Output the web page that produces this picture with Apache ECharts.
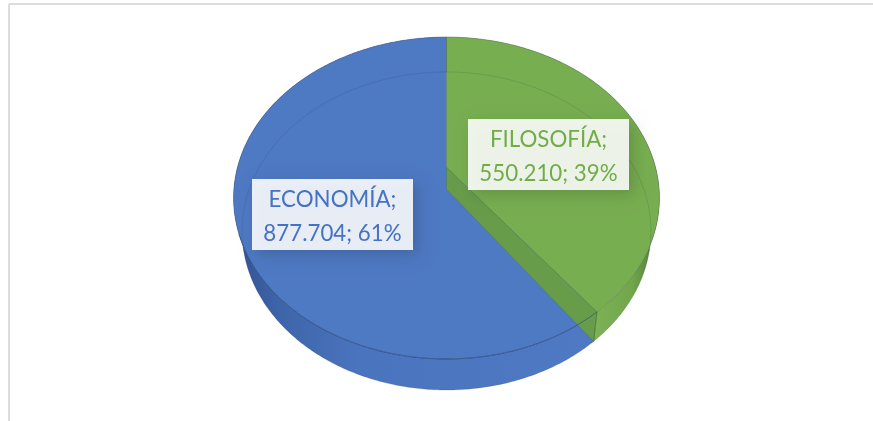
<!DOCTYPE html>
<html>
<head>
<meta charset="utf-8">
<style>
    html, body { margin: 0; padding: 0; background: #fff; }
    #chart { width: 873px; height: 421px; }
</style>
<script src="https://cdn.jsdelivr.net/npm/echarts@6/dist/echarts.min.js"></script>
</head>
<body>
<div id="chart"></div>
<script>
const categories = ['ECONOMÍA', 'FILOSOFÍA']
const values = [877704, 550210]
const valueLabels = ['877.704', '550.210']
const percentLabels = ['61%', '39%']
const textColors = ['#4472c4', '#70ad47']

const total = values.reduce((a, b) => a + b, 0)
const startAngle = -values[0] / total * Math.PI * 2 // el verde arranca arriba

// perspectiva de la tarta: cara superior y cara inferior
const cx = 446.5
const topFace = { k: 0.0932, a: 212, b: 142.5, c: 183 }
const bottomFace = { k: 0.1195, a: 203, b: 131.4, c: 212 }

const project = (angle, face) => {
    const u = Math.sin(angle)
    const v = -Math.cos(angle)
    const d = 1 - face.k * v
    return [cx + face.a * u / d, (face.b * v + face.c) / d]
}
const arc = (from, to, face) => {
    const pts = []
    const n = Math.max(2, Math.ceil(Math.abs(to - from) / 0.01))
    for (let i = 0; i <= n; i++) pts.push(project(from + (to - from) * i / n, face))
    return pts
}
const sliceRange = (index) => {
    let from = startAngle
    for (let i = 0; i < index; i++) from += values[i] / total * Math.PI * 2
    return [from, from + values[index] / total * Math.PI * 2]
}
const grad = (x0, x1, stops) => new echarts.graphic.LinearGradient(x0, 0, x1, 0, stops, true)

const wallFills = [
    grad(233, 592, [
        { offset: 0, color: '#2f5190' },
        { offset: 0.12, color: '#3d64a8' },
        { offset: 0.35, color: '#4a74bd' },
        { offset: 1, color: '#4f79c2' }
    ]),
    grad(592, 660, [
        { offset: 0, color: '#7fb257' },
        { offset: 0.6, color: '#71a64b' },
        { offset: 1, color: '#4a7330' }
    ])
]
const faceFills = ['#4e79c3', '#77ae50']
const labelBoxes = [
    { x: 252, y: 179, width: 161, height: 71, fill: 'rgba(255,255,255,0.88)' },
    { x: 468, y: 119, width: 161, height: 71, fill: 'rgba(255,255,255,0.88)' }
]

const chartData = categories.map((name, i) => ({ name, value: values[i] }))

const renderWall = (params) => {
    const [from, to] = sliceRange(params.dataIndex)
    const points = arc(from, to, topFace).concat(arc(from, to, bottomFace).reverse())
    return {
        type: 'polygon',
        shape: { points },
        style: { fill: wallFills[params.dataIndex], stroke: 'rgba(40,60,90,0.35)', lineWidth: 0.5 }
    }
}

const renderFace = (params) => {
    const [from, to] = sliceRange(params.dataIndex)
    const points = [project(0, { ...topFace, a: 0, b: 0 })].concat(arc(from, to, topFace))
    return {
        type: 'polygon',
        shape: { points },
        style: { fill: faceFills[params.dataIndex], stroke: 'rgba(50,60,70,0.4)', lineWidth: 0.6 }
    }
}

// corte del sector verde visto a traves del azul, y lineas finas de la base
const renderCut = (params) => {
    if (params.dataIndex !== 1) return null
    const [, to] = sliceRange(1)
    const apexTop = project(0, { ...topFace, a: 0, b: 0 })
    const apexBottom = project(0, { ...bottomFace, a: 0, b: 0 })
    const edgeTop = project(to, topFace)
    const edgeBottom = project(to, bottomFace)
    return {
        type: 'group',
        children: [
            {
                type: 'polygon',
                shape: { points: [apexTop, edgeTop, edgeBottom, apexBottom] },
                style: { fill: '#679c4a', stroke: 'rgba(60,100,50,0.5)', lineWidth: 0.5 }
            },
            {
                type: 'polyline',
                shape: { points: arc(-Math.PI * 0.58, Math.PI * 0.58, bottomFace) },
                style: { fill: 'none', stroke: 'rgba(40,60,70,0.22)', lineWidth: 0.7 }
            },
            {
                type: 'polyline',
                shape: { points: arc(to, Math.PI * 1.4, topFace) },
                style: { fill: 'none', stroke: 'rgba(35,65,125,0.7)', lineWidth: 0.8 }
            },
            {
                type: 'line',
                shape: { x1: edgeTop[0], y1: edgeTop[1], x2: edgeBottom[0], y2: edgeBottom[1] },
                style: { stroke: 'rgba(60,100,50,0.6)', lineWidth: 0.6 }
            }
        ]
    }
}

const renderLabel = (params) => {
    const i = params.dataIndex
    const box = labelBoxes[i]
    return {
        type: 'group',
        children: [
            {
                type: 'rect',
                shape: { x: box.x, y: box.y, width: box.width, height: box.height },
                style: {
                    fill: box.fill,
                    shadowBlur: 14,
                    shadowColor: 'rgba(0,0,0,0.18)',
                    shadowOffsetX: 5,
                    shadowOffsetY: 5
                }
            },
            {
                type: 'text',
                x: box.x + box.width / 2,
                y: box.y + box.height / 2 + 2,
                scaleX: 0.93,
                style: {
                    x: 0,
                    y: 0,
                    text: `${categories[i]};\n${valueLabels[i]}; ${percentLabels[i]}`,
                    fill: textColors[i],
                    font: '24px Lato',
                    lineHeight: 34,
                    align: 'center',
                    verticalAlign: 'middle'
                }
            }
        ]
    }
}

const layer = (renderItem, z) => ({
    type: 'custom',
    coordinateSystem: 'none',
    silent: true,
    animation: false,
    z,
    renderItem,
    data: chartData
})

const myChart = echarts.init(document.getElementById('chart'), null, { renderer: 'canvas' })
myChart.setOption({
    backgroundColor: '#ffffff',
    animation: false,
    graphic: [
        { type: 'line', shape: { x1: 9, y1: 4, x2: 873, y2: 4 }, style: { stroke: '#dcdcdc', lineWidth: 2 } },
        { type: 'line', shape: { x1: 9, y1: 4, x2: 9, y2: 421 }, style: { stroke: '#dcdcdc', lineWidth: 2 } }
    ],
    series: [
        layer(renderWall, 1),
        layer(renderFace, 2),
        layer(renderCut, 3),
        layer(renderLabel, 4)
    ]
})
</script>
</body>
</html>
